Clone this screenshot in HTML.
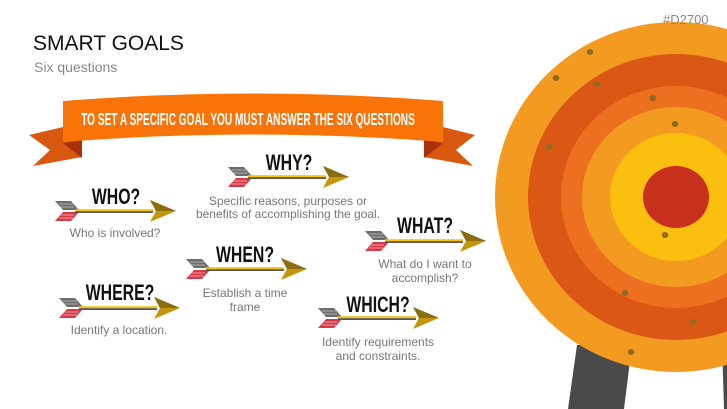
<!DOCTYPE html>
<html><head><meta charset="utf-8"><style>
html,body{margin:0;padding:0;background:#fff;}
body{width:727px;height:409px;overflow:hidden;position:relative;font-family:"Liberation Sans",sans-serif;}
svg{position:absolute;left:0;top:0;}
</style></head><body>
<svg width="727" height="409" viewBox="0 0 727 409" xmlns="http://www.w3.org/2000/svg">
<defs>
<g id="arr">
  <polygon points="0,0 16,0 24,9 8,9" fill="#6d6d6d"/>
  <polygon points="0,20 16,20 24,11 8,11" fill="#d6394a"/>
  <line x1="4" y1="3" x2="18" y2="3" stroke="#bbb" stroke-width="0.8"/>
  <line x1="5" y1="6" x2="19" y2="6" stroke="#bbb" stroke-width="0.8"/>
  <line x1="4" y1="17" x2="18" y2="17" stroke="#f3b0b5" stroke-width="0.8"/>
  <line x1="5" y1="14" x2="19" y2="14" stroke="#f3b0b5" stroke-width="0.8"/>
  <rect x="20" y="8.2" width="78" height="2" fill="#f5c010"/>
  <rect x="20" y="10.2" width="78" height="1.8" fill="#555"/>
  <polygon points="95,-1 121,10 95,21 101,10" fill="#c4960c"/>
  <polygon points="95,-1 121,10 101,10" fill="#8a6d10"/>
</g>
</defs>
<polygon points="577,345 632,345 624,409 568,409" fill="#4a4a4a"/>
<polygon points="722,345 727,345 727,409 724,409" fill="#4a4a4a"/>
<ellipse cx="676" cy="197" rx="181" ry="175" fill="#F39A21"/>
<ellipse cx="676" cy="197" rx="148" ry="143" fill="#DB5716"/>
<ellipse cx="676" cy="197" rx="115" ry="111" fill="#EC7020"/>
<ellipse cx="676" cy="197" rx="94" ry="90" fill="#F39A21"/>
<ellipse cx="676" cy="197" rx="66" ry="64" fill="#FBBF10"/>
<ellipse cx="676" cy="197" rx="33" ry="31" fill="#C8311E"/>
<g fill="#8e6a23">
<ellipse cx="590" cy="52" rx="3.3" ry="3"/><ellipse cx="556" cy="78" rx="3.3" ry="3"/>
<ellipse cx="597" cy="84" rx="3.3" ry="3"/><ellipse cx="653" cy="98" rx="3.3" ry="3"/>
<ellipse cx="675" cy="124" rx="3.3" ry="3"/><ellipse cx="549" cy="147" rx="3.3" ry="3"/>
<ellipse cx="665" cy="235" rx="3.3" ry="3"/><ellipse cx="625" cy="293" rx="3.3" ry="3"/>
<ellipse cx="693" cy="322" rx="3.3" ry="3"/><ellipse cx="631" cy="352" rx="3.3" ry="3"/>
</g>
<text x="663" y="24" font-size="13" fill="#888">#D2700</text>
<text x="33" y="50" font-size="21" fill="#111">SMART GOALS</text>
<text x="34" y="72" font-size="14" fill="#888">Six questions</text>
<polygon points="29,135 63,127 82,140 82,157 33,166 50,150" fill="#D9580F"/>
<polygon points="475,135 443,127 424,140 424,157 473,166 456,150" fill="#D9580F"/>
<polygon points="63,143 82,140 82,158" fill="#A8300A"/>
<polygon points="443,143 424,140 424,158" fill="#A8300A"/>
<path d="M63,101 Q253,86 443,101 L443,142 Q253,127 63,142 Z" fill="#F97408"/>
<text transform="translate(248,125) scale(0.56,1)" text-anchor="middle" font-size="18" font-weight="bold" fill="#fff">TO SET A SPECIFIC GOAL YOU MUST ANSWER THE SIX QUESTIONS</text>
<use href="#arr" transform="translate(55,201)"/>
<use href="#arr" transform="translate(228,167)"/>
<use href="#arr" transform="translate(365,231)"/>
<use href="#arr" transform="translate(186,259)"/>
<use href="#arr" transform="translate(59,298)"/>
<use href="#arr" transform="translate(318,308)"/>
<g font-size="22" font-weight="bold" fill="#111" text-anchor="middle">
<text transform="translate(116,204) scale(0.72,1)">WHO?</text>
<text transform="translate(289,170) scale(0.72,1)">WHY?</text>
<text transform="translate(425,233) scale(0.72,1)">WHAT?</text>
<text transform="translate(245,262) scale(0.72,1)">WHEN?</text>
<text transform="translate(120,300) scale(0.72,1)">WHERE?</text>
<text transform="translate(378,312) scale(0.72,1)">WHICH?</text>
</g>
<g font-size="12" fill="#777" text-anchor="middle">
<text x="115" y="237">Who is involved?</text>
<text x="288" y="205">Specific reasons, purposes or</text>
<text x="288" y="218">benefits of accomplishing the goal.</text>
<text x="425" y="268">What do I want to</text>
<text x="425" y="282">accomplish?</text>
<text x="245" y="297">Establish a time</text>
<text x="245" y="311">frame</text>
<text x="119" y="334">Identify a location.</text>
<text x="378" y="346">Identify requirements</text>
<text x="378" y="360">and constraints.</text>
</g>
</svg>
</body></html>
